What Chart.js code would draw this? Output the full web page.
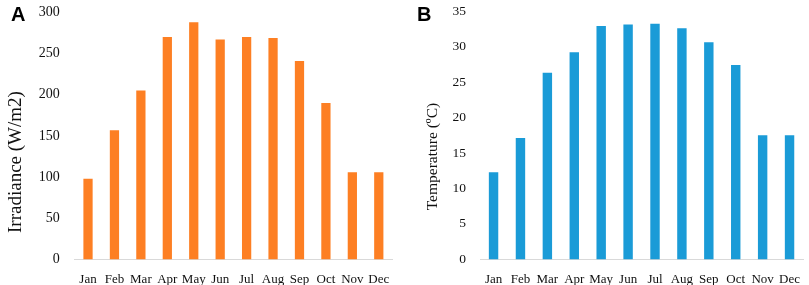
<!DOCTYPE html>
<html lang="en">
<head>
  <meta charset="UTF-8">
  <title>Irradiance and temperature by month</title>
  <script src="https://cdn.jsdelivr.net/npm/chart.js"></script>
  <style>
    body { margin: 0; background: #fff; width: 809px; height: 285px; overflow: hidden; position: relative; }
    .panel { position: absolute; top: -3px; height: 294px; }
    .tag { position: absolute; top: 3px; font: bold 20px "Liberation Sans", Arial, sans-serif; color: #000; }
  </style>
</head>
<body>
  <div class="panel" style="left:0;width:400px"><canvas id="chartA" width="400" height="294"></canvas></div>
  <div class="panel" style="left:405px;width:404px"><canvas id="chartB" width="404" height="294"></canvas></div>
  <div class="tag" style="left:11px">A</div>
  <div class="tag" style="left:417px">B</div>

  <script>
    const months = ['Jan', 'Feb', 'Mar', 'Apr', 'May', 'Jun', 'Jul', 'Aug', 'Sep', 'Oct', 'Nov', 'Dec'];
    const irradiance = [98, 157, 205, 270, 288, 267, 270, 269, 241, 190, 106, 106];
    const temperature = [12.3, 17.1, 26.3, 29.2, 32.9, 33.1, 33.2, 32.6, 30.6, 27.4, 17.5, 17.5];

    const serif = '"Liberation Serif", "Times New Roman", serif';

    function makeChart(id, values, color, yTitle, yMax, step, f, pad) {
      return new Chart(document.getElementById(id), {
        type: 'bar',
        data: {
          labels: months,
          datasets: [{
            data: values,
            backgroundColor: color,
            barPercentage: 0.35,
            categoryPercentage: 1
          }]
        },
        options: {
          responsive: false,
          animation: false,
          layout: { padding: pad },
          plugins: { legend: { display: false }, tooltip: { enabled: false } },
          scales: {
            x: {
              grid: { display: false },
              border: { display: true, color: '#d9d9d9', width: 1 },
              ticks: { color: '#111', font: { family: serif, size: 13 }, maxRotation: 0, autoSkip: false, padding: 4 }
            },
            y: {
              min: 0,
              max: yMax,
              grid: { display: false },
              border: { display: false },
              ticks: { stepSize: step, color: '#111', font: { family: serif, size: f.tick }, padding: f.gap },
              // trailing spaces push the title a little below the axis centre, as in the source figure
              title: { display: true, text: yTitle + '\u00a0'.repeat(11), color: '#111', font: { family: serif, size: f.title }, padding: { bottom: 4 } }
            }
          }
        }
      });
    }

    makeChart('chartA', irradiance, '#fd7f23', 'Irradiance (W/m2)', 300, 50, { tick: 14, title: 19, gap: 7 }, { top: 0, left: 1, right: 8, bottom: 0 });
    makeChart('chartB', temperature, '#1a9bd7', 'Temperature (ºC)', 35, 5, { tick: 13.5, title: 15.5, gap: 6 }, { top: 0.5, left: 15, right: 6, bottom: 0 });
  </script>
</body>
</html>
